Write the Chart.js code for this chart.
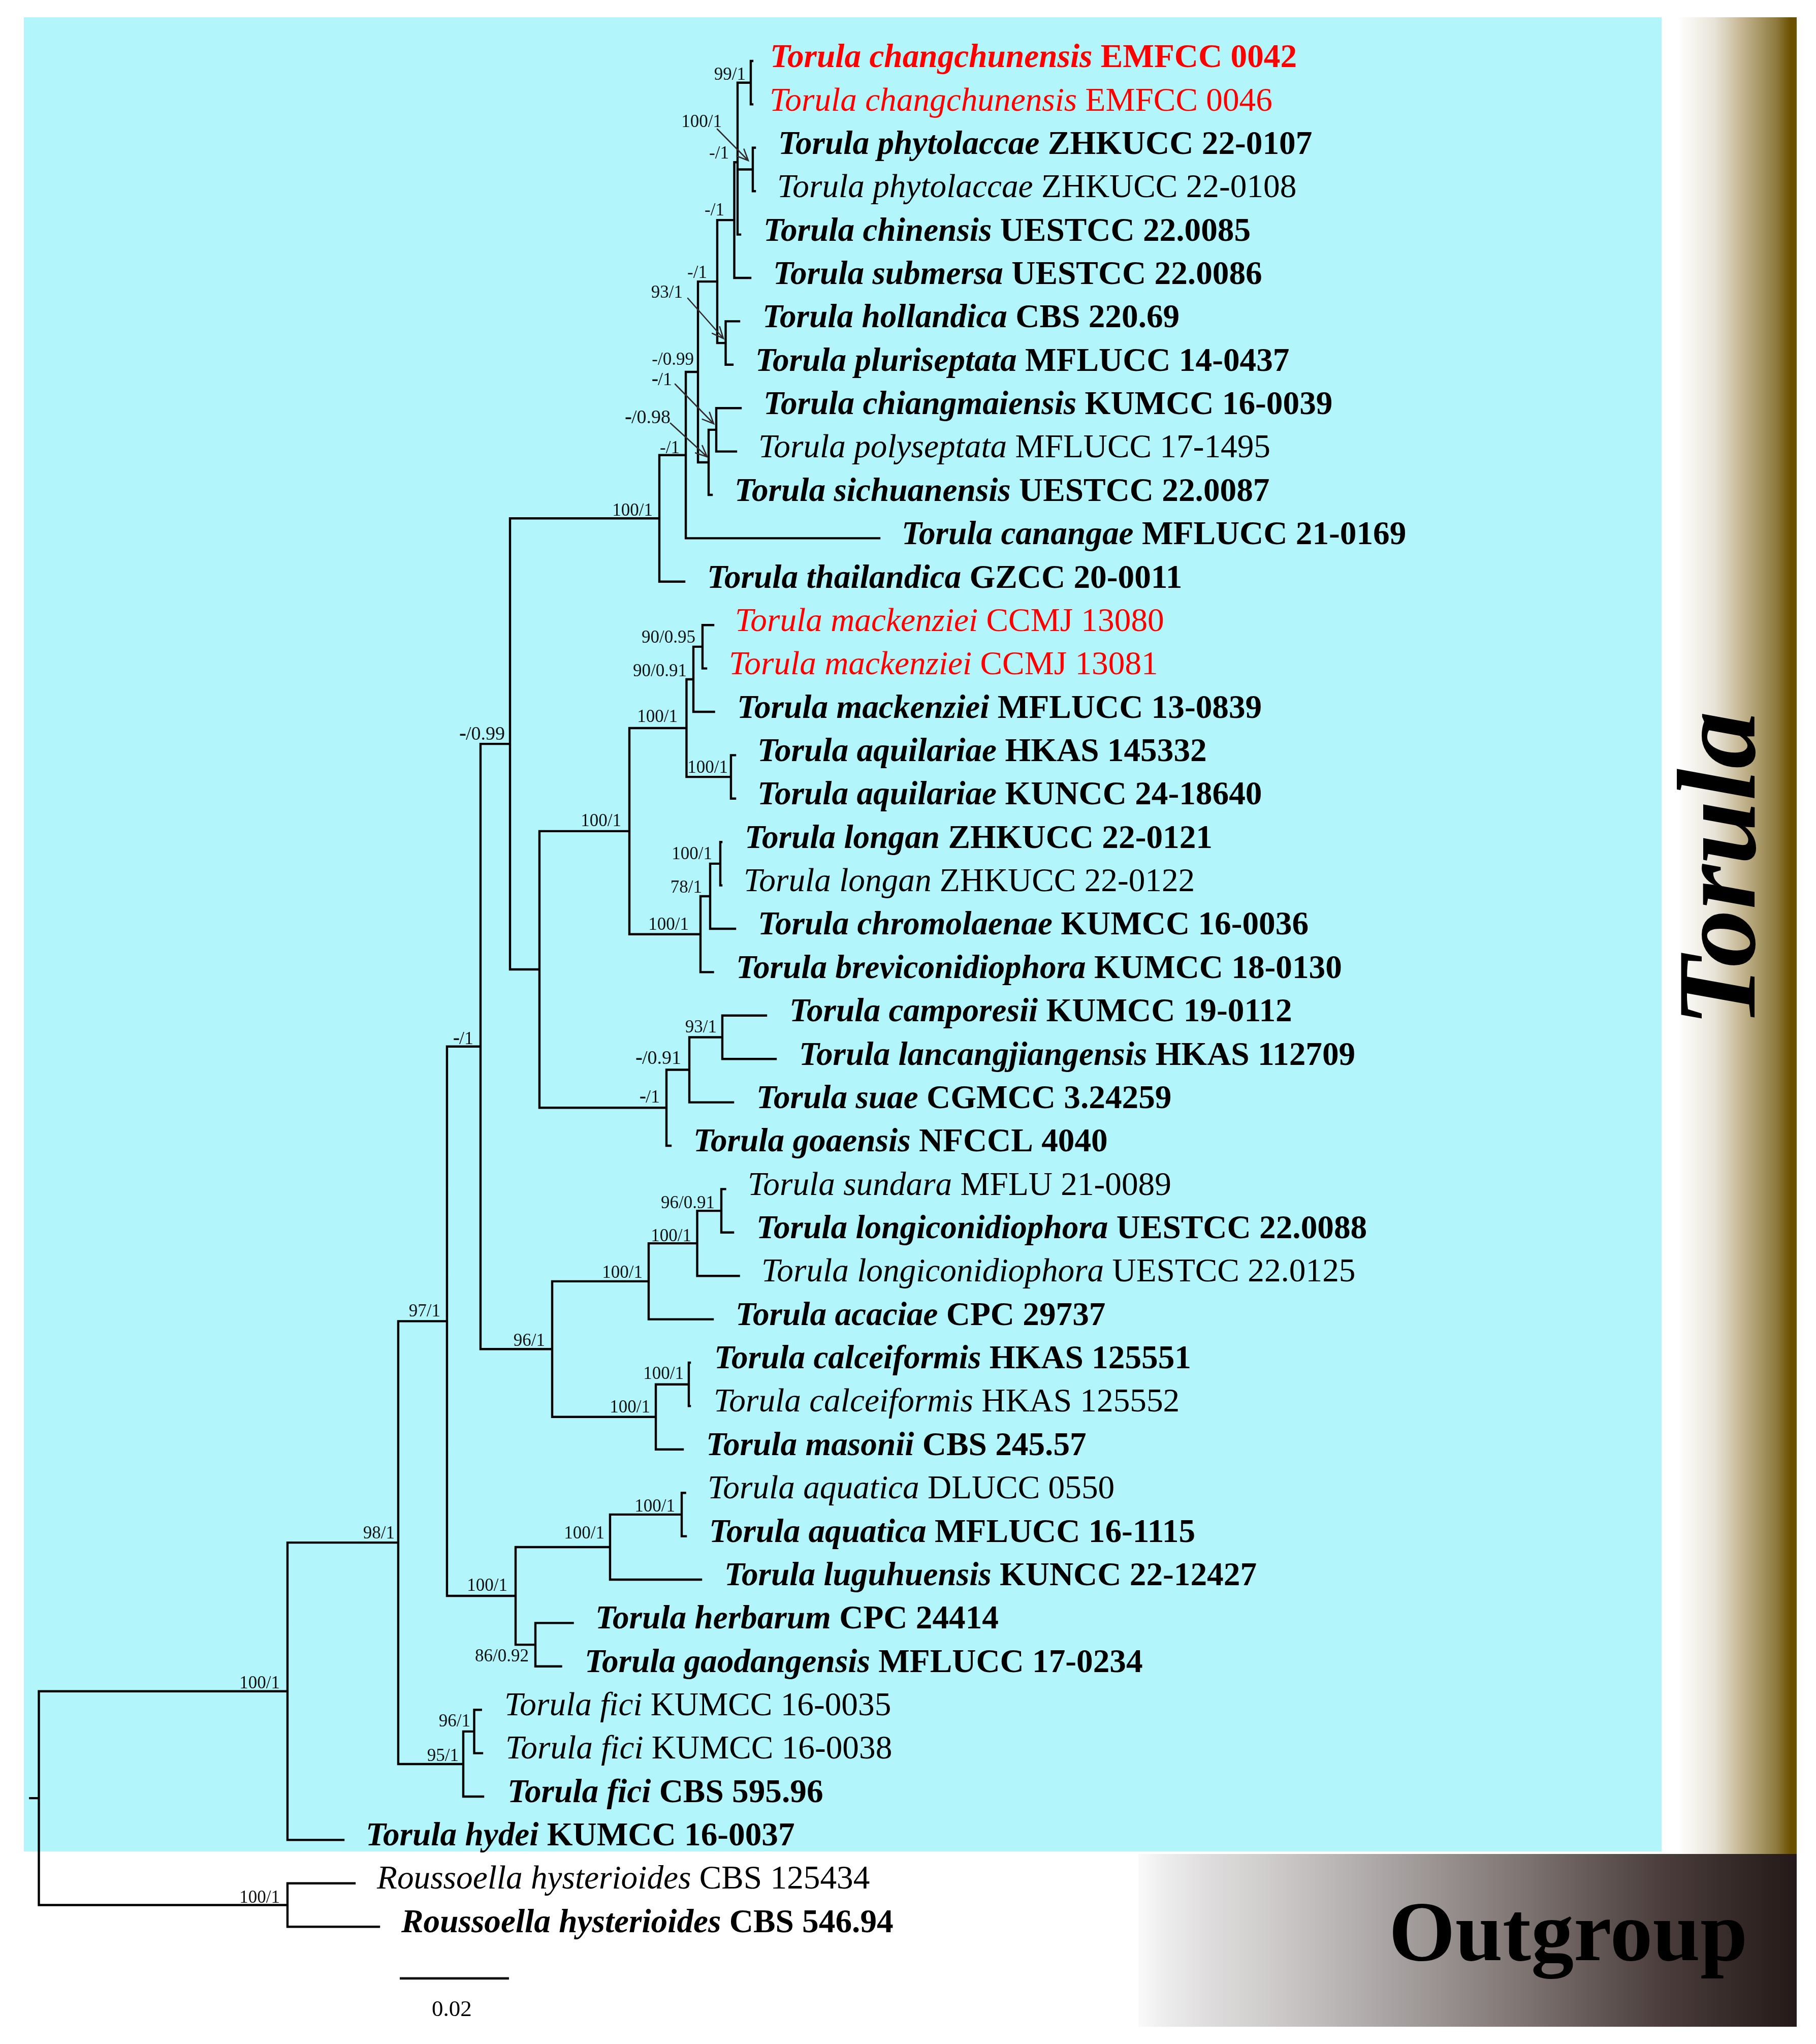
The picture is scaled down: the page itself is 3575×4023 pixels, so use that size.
<!DOCTYPE html>
<html><head><meta charset="utf-8">
<style>html,body{margin:0;padding:0;background:#fff}canvas{display:block}</style>
<script src="https://cdn.jsdelivr.net/npm/chart.js@4/dist/chart.umd.min.js"></script>
</head><body><canvas id="c" width="3575" height="4023" style="width:3575px;height:4023px"></canvas>
<script>
// ---------- DATA ----------
const taxonSpecies = ["Torula changchunensis","Torula changchunensis","Torula phytolaccae","Torula phytolaccae","Torula chinensis","Torula submersa","Torula hollandica","Torula pluriseptata","Torula chiangmaiensis","Torula polyseptata","Torula sichuanensis","Torula canangae","Torula thailandica","Torula mackenziei","Torula mackenziei","Torula mackenziei","Torula aquilariae","Torula aquilariae","Torula longan","Torula longan","Torula chromolaenae","Torula breviconidiophora","Torula camporesii","Torula lancangjiangensis","Torula suae","Torula goaensis","Torula sundara","Torula longiconidiophora","Torula longiconidiophora","Torula acaciae","Torula calceiformis","Torula calceiformis","Torula masonii","Torula aquatica","Torula aquatica","Torula luguhuensis","Torula herbarum","Torula gaodangensis","Torula fici","Torula fici","Torula fici","Torula hydei","Roussoella hysterioides","Roussoella hysterioides"];
const taxonCode = ["EMFCC 0042","EMFCC 0046","ZHKUCC 22-0107","ZHKUCC 22-0108","UESTCC 22.0085","UESTCC 22.0086","CBS 220.69","MFLUCC 14-0437","KUMCC 16-0039","MFLUCC 17-1495","UESTCC 22.0087","MFLUCC 21-0169","GZCC 20-0011","CCMJ 13080","CCMJ 13081","MFLUCC 13-0839","HKAS 145332","KUNCC 24-18640","ZHKUCC 22-0121","ZHKUCC 22-0122","KUMCC 16-0036","KUMCC 18-0130","KUMCC 19-0112","HKAS 112709","CGMCC 3.24259","NFCCL 4040","MFLU 21-0089","UESTCC 22.0088","UESTCC 22.0125","CPC 29737","HKAS 125551","HKAS 125552","CBS 245.57","DLUCC 0550","MFLUCC 16-1115","KUNCC 22-12427","CPC 24414","MFLUCC 17-0234","KUMCC 16-0035","KUMCC 16-0038","CBS 595.96","KUMCC 16-0037","CBS 125434","CBS 546.94"];
const taxonIsType = [1,0,1,0,1,1,1,1,1,0,1,1,1,0,0,1,1,1,1,0,1,1,1,1,1,1,0,1,0,1,1,0,1,0,1,1,1,1,0,0,1,1,0,1];
const taxonIsNew = [1,1,0,0,0,0,0,0,0,0,0,0,0,1,1,0,0,0,0,0,0,0,0,0,0,0,0,0,0,0,0,0,0,0,0,0,0,0,0,0,0,0,0,0];
// distance from the root (substitutions per site) of each tip
const tipDepth = [0.13065,0.13065,0.13112,0.13112,0.12842,0.13028,0.12823,0.12702,0.12851,0.12767,0.12321,0.15391,0.11819,0.12349,0.12219,0.12363,0.12749,0.12749,0.12498,0.12498,0.12749,0.12344,0.13316,0.13493,0.12712,0.11567,0.12567,0.12712,0.12819,0.12340,0.11921,0.11921,0.11791,0.11833,0.11847,0.12126,0.09777,0.09563,0.08095,0.08116,0.08135,0.05577,0.05781,0.06228];
// internal nodes, children listed before parents
const nodeChildren = ["t0 t1","t2 t3","n0 n1 t4","n2 t5","t6 t7","n3 n4","t8 t9","n6 t10","n5 n7","n8 t11","n9 t12","t13 t14","n11 t15","t16 t17","n12 n13","t18 t19","n15 t20","n16 t21","n14 n17","t22 t23","n19 t24","n20 t25","n18 n21","n10 n22","t26 t27","n24 t28","n25 t29","t30 t31","n27 t32","n26 n28","n23 n29","t33 t34","n31 t35","t36 t37","n32 n33","n30 n34","t38 t39","n36 t40","n35 n37","n38 t41","t42 t43","n39 n40"];
const nodeDepth = [0.13037,0.13074,0.12795,0.12735,0.12577,0.12423,0.12405,0.12265,0.12070,0.11847,0.11363,0.12153,0.11986,0.12674,0.11860,0.12479,0.12293,0.12116,0.10814,0.12516,0.11912,0.11493,0.09167,0.08628,0.12498,0.12056,0.11167,0.11902,0.11298,0.09400,0.08088,0.11772,0.10460,0.09093,0.08730,0.07474,0.07972,0.07772,0.06581,0.04553,0.04553,0];
const nodeSupport = ["99/1","100/1","-/1","-/1","93/1","-/1","-/1","-/0.98","-/0.99","-/1","100/1","90/0.95","90/0.91","100/1","100/1","100/1","78/1","100/1","100/1","93/1","-/0.91","-/1","","-/0.99","96/0.91","100/1","100/1","100/1","100/1","96/1","-/1","100/1","100/1","86/0.92","100/1","97/1","96/1","95/1","98/1","100/1","100/1",""];
const rootStemLength = 0.0016;
const scaleBarLength = 0.02, scaleBarLabel = "0.02";
const cladeLabels = ["Torula","Outgroup"];

// ---------- LAYOUT (canvas pixels, text & decoration only) ----------
const W = 3575, H = 4023;
const PX_PER_UNIT = 10750, ROOT_PX = 76.5, ROW0_PX = 120, ROW_PX = 85.4;
const labelLeft = [1521,1520,1537,1535,1508,1527,1506,1492,1508,1498,1451,1780,1397,1452,1440,1456,1496,1496,1471,1469,1497,1454,1559,1578,1494,1370,1477,1494,1504,1453,1411,1410,1395,1398,1401,1431,1177,1156,998,1000,1004,725,747,795];
const LABEL_NUDGE = -5, LABEL_SIZE = 65.3;
const labelDrop = row => 12.2 - row * 0.038;
const supportRight = [1468,1421,1435,1426,1344,1392,1323,1320,1366,1338,1285,1369,1352,1433,1334,1402,1382,1356,1223,1411,1341,1299,0,994,1407,1361,1265,1346,1280,1073,932,1329,1190,1041,999,867,926,903,777,551,551,0];
const supportBase = [157,250,312,424,586,547,758,833,718,892,1015,1265,1331,1521,1421,1691,1757,1830,1626,2032,2094,2170,0,1456,2378,2443,2515,2714,2780,2649,2055,2975,3028,3270,3131,2591,3398,3466,3028,3323,3745,0];
const supportHeavyDash = [6,7,20,21,23,30];
const arrows = [[1412,254,1473,316],[1354,587,1424,666],[1329,756,1405,834],[1320,833,1392,899]];
const FONT = '"Liberation Serif"';

// ---------- TREE ----------
const rowOf = {};
taxonSpecies.forEach((_, i) => rowOf['t' + i] = i);
const depthOf = {};
tipDepth.forEach((d, i) => depthOf['t' + i] = d);
nodeChildren.forEach((list, i) => {
  const kids = list.split(' ');
  rowOf['n' + i] = kids.reduce((a, k) => a + rowOf[k], 0) / kids.length;
  depthOf['n' + i] = nodeDepth[i];
});
const branches = [];
nodeChildren.forEach((list, i) => {
  const kids = list.split(' '), dx = nodeDepth[i];
  const rows = kids.map(k => rowOf[k]);
  branches.push({x: dx, y: Math.min(...rows)}, {x: dx, y: Math.max(...rows)}, {x: null, y: null});
  kids.forEach(k => branches.push({x: dx, y: rowOf[k]}, {x: depthOf[k], y: rowOf[k]}, {x: null, y: null}));
});
const rootRow = rowOf['n' + (nodeChildren.length - 1)];
branches.push({x: -rootStemLength, y: rootRow}, {x: 0, y: rootRow});

const scaleBarStart = 0.06609, scaleBarRow = 44.19;

const hGrad = (ctx, x0, x1, stops) => {
  const g = ctx.createLinearGradient(x0, 0, x1, 0);
  stops.forEach(([p, c]) => g.addColorStop((p - x0) / (x1 - x0), c));
  return g;
};

const backdrop = {
  id: 'backdrop',
  beforeDraw(chart) {
    const c = chart.ctx;
    c.save();
    c.fillStyle = '#fff'; c.fillRect(0, 0, W, H);
    c.fillStyle = '#B2F6FB'; c.fillRect(47, 34, 3271 - 47, 3644 - 34);
    c.fillStyle = hGrad(c, 3271, 3537, [[3271,'#ffffff'],[3303,'#ffffff'],[3375,'#E8E4D8'],[3431,'#C3B48F'],[3497,'#8D7A3F'],[3525,'#6B5000'],[3537,'#6B5000']]);
    c.fillRect(3271, 34, 266, 3649 - 34);
    c.fillStyle = hGrad(c, 2241, 3537, [[2241,'#fafafa'],[2288,'#EFEEEE'],[2382,'#DEDCDC'],[2476,'#D2D0CF'],[2758,'#A5A09F'],[2994,'#7F7573'],[3276,'#4A3D3B'],[3537,'#241918']]);
    c.fillRect(2241, 3649, 3537 - 2241, 3989 - 3649);
    c.restore();
  }
};

const texts = {
  id: 'texts',
  afterDatasetsDraw(chart) {
    const c = chart.ctx, yS = chart.scales.y, xS = chart.scales.x;
    c.save();
    c.textBaseline = 'alphabetic';
    // taxa
    taxonSpecies.forEach((sp, i) => {
      const y = yS.getPixelForValue(i) + labelDrop(i);
      const x = labelLeft[i] + LABEL_NUDGE;
      const bold = taxonIsType[i];
      c.fillStyle = taxonIsNew[i] ? '#FF0000' : '#000';
      c.textAlign = 'left';
      c.font = `italic ${bold ? 'bold ' : ''}${LABEL_SIZE}px ${FONT}`;
      c.fillText(sp, x, y);
      const w = c.measureText(sp + ' ').width;
      c.font = `${bold ? 'bold ' : ''}${LABEL_SIZE}px ${FONT}`;
      c.fillText(taxonCode[i], x + w, y);
    });
    // support values
    c.fillStyle = '#111';
    c.textAlign = 'right';
    nodeSupport.forEach((s, i) => {
      if (!s) return;
      if (supportHeavyDash.includes(i)) {
        const big = s.length > 4;
        const size = big ? 38 : 36;
        c.font = `${size}px ${FONT}`;
        const rest = s.slice(1);
        c.fillText(rest, supportRight[i], supportBase[i]);
        const w = c.measureText(rest).width;
        c.font = `bold ${size + 4}px ${FONT}`;
        c.fillText('-', supportRight[i] - w + 1, supportBase[i]);
      } else {
        c.font = `35px ${FONT}`;
        c.fillText(s, supportRight[i], supportBase[i]);
      }
    });
    // arrows
    c.strokeStyle = '#33282a'; c.lineWidth = 2.6; c.lineCap = 'round';
    arrows.forEach(([x0, y0, x1, y1]) => {
      const a = Math.atan2(y1 - y0, x1 - x0), L = 24;
      c.beginPath(); c.moveTo(x0, y0); c.lineTo(x1, y1);
      c.moveTo(x1 - L * Math.cos(a - 0.42), y1 - L * Math.sin(a - 0.42)); c.lineTo(x1, y1);
      c.lineTo(x1 - L * Math.cos(a + 0.42), y1 - L * Math.sin(a + 0.42));
      c.stroke();
    });
    // scale bar label
    c.fillStyle = '#000'; c.textAlign = 'center'; c.font = `45px ${FONT}`;
    c.fillText(scaleBarLabel, xS.getPixelForValue(scaleBarStart + scaleBarLength / 2) - 5, 3968);
    // clade labels
    c.font = `bold 168px ${FONT}`; c.textAlign = 'left';
    c.fillText(cladeLabels[1], 2734, 3858);
    c.save();
    c.translate(3454, 2021); c.rotate(-Math.PI / 2); c.scale(1.03, 1);
    c.font = `italic bold 220px ${FONT}`;
    c.fillText(cladeLabels[0], 0, 0);
    c.restore();
    c.restore();
  }
};

new Chart(document.getElementById('c'), {
  type: 'scatter',
  data: { datasets: [
    { label: 'Tree', data: branches, showLine: true, spanGaps: false, pointRadius: 0, borderColor: '#000', borderWidth: 4.4, borderCapStyle: 'square', borderJoinStyle: 'miter', tension: 0 },
    { label: 'Scale', data: [{x: scaleBarStart, y: scaleBarRow}, {x: scaleBarStart + scaleBarLength, y: scaleBarRow}], showLine: true, pointRadius: 0, borderColor: '#111', borderWidth: 4.6 }
  ]},
  options: {
    responsive: false, animation: false, devicePixelRatio: 1,
    layout: { padding: 0 },
    plugins: { legend: { display: false }, tooltip: { enabled: false } },
    scales: {
      x: { type: 'linear', display: false, min: -ROOT_PX / PX_PER_UNIT, max: (W - ROOT_PX) / PX_PER_UNIT },
      y: { type: 'linear', display: false, reverse: true, min: -ROW0_PX / ROW_PX, max: (H - ROW0_PX) / ROW_PX }
    }
  },
  plugins: [backdrop, texts]
});
</script></body></html>
